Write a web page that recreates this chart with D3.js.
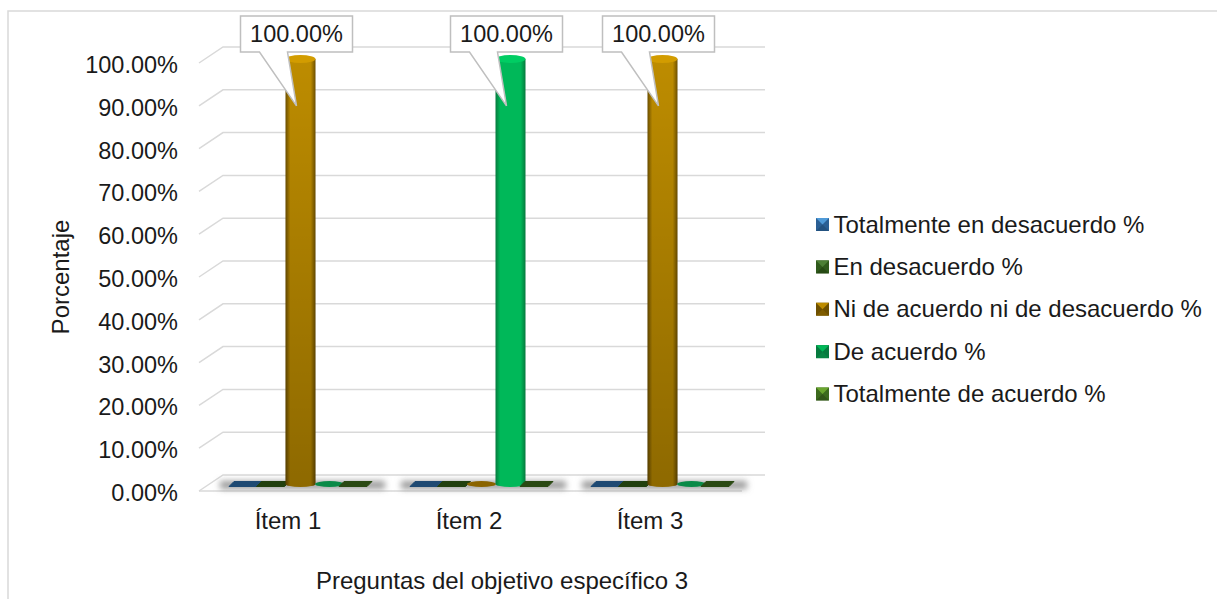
<!DOCTYPE html>
<html>
<head>
<meta charset="utf-8">
<script src="https://cdn.jsdelivr.net/npm/d3@7"></script>
<style>
  html, body { margin: 0; padding: 0; background: #fff; }
  text { font-family: "Liberation Sans", Arial, sans-serif; fill: #1a1a1a; }
</style>
</head>
<body>
<div id="chart"></div>
<script>
const items = ["Ítem 1", "Ítem 2", "Ítem 3"];
const seriesNames = ["Totalmente en desacuerdo %", "En desacuerdo %", "Ni de acuerdo ni de desacuerdo %", "De acuerdo %", "Totalmente de acuerdo %"];
const totalDes = [0, 0, 0];
const enDes = [0, 0, 0];
const niNi = [100, 0, 100];
const deAcuerdo = [0, 100, 0];
const totalAc = [0, 0, 0];
const seriesValues = [totalDes, enDes, niNi, deAcuerdo, totalAc];
const yTicks = [0, 10, 20, 30, 40, 50, 60, 70, 80, 90, 100];

// colours per series: flat base, dark edge, light centre
const flatColors = ["#1f4a73", "#22400f", "#8a6400", "#0a8a48", "#2b4a14"];
const edgeColors = ["#2a5f94", "#2f5a1c", "#6e5000", "#067a3e", "#3c6a1e"];
const midColors = ["#4f9ad8", "#4c7f35", "#bd8c00", "#00b859", "#6aa52e"];

const width = 1217, height = 599;
const dx = 24, dy = -16;   // depth of the 3d floor

const svg = d3.select("#chart").append("svg")
    .attr("width", width)
    .attr("height", height)
    .style("display", "block");

const defs = svg.append("defs");
seriesNames.forEach(function(s, i) {
    const g = defs.append("linearGradient").attr("id", "cyl" + i);
    g.append("stop").attr("offset", "0%").attr("stop-color", edgeColors[i]);
    g.append("stop").attr("offset", "16%").attr("stop-color", midColors[i]);
    g.append("stop").attr("offset", "84%").attr("stop-color", midColors[i]);
    g.append("stop").attr("offset", "100%").attr("stop-color", edgeColors[i]);
});
// brown bars darken towards the floor
const fade = defs.append("linearGradient").attr("id", "fade")
    .attr("x1", 0).attr("x2", 0).attr("y1", 0).attr("y2", 1);
fade.append("stop").attr("offset", "0%").attr("stop-color", "#000").attr("stop-opacity", 0);
fade.append("stop").attr("offset", "100%").attr("stop-color", "#000").attr("stop-opacity", 0.25);
defs.append("filter").attr("id", "blur")
    .attr("x", "-20%").attr("y", "-100%").attr("width", "140%").attr("height", "300%")
    .append("feGaussianBlur").attr("stdDeviation", 3);

// chart frame, only top and left show
svg.append("path")
    .attr("d", "M8,599V11H1217")
    .attr("fill", "none")
    .attr("stroke", "#d9d9d9")
    .attr("stroke-width", 1.5);

const y = d3.scaleLinear().domain([0, 100]).range([491, 63]);
const x = d3.scaleBand().domain(items).range([199, 742]);
const inner = d3.scaleBand().domain(d3.range(5)).range([18, x.bandwidth() - 18]);

// gridlines with the diagonal on the left wall
svg.append("g").selectAll("path")
    .data(yTicks)
    .enter()
    .append("path")
    .attr("d", function(d) {
        return "M199," + y(d) + "L" + (199 + dx) + "," + (y(d) + dy) + "H765";
    })
    .attr("fill", "none")
    .attr("stroke", "#d9d9d9")
    .attr("stroke-width", 1.5);

// floor front edge
svg.append("line")
    .attr("x1", 199).attr("x2", 742)
    .attr("y1", y(0)).attr("y2", y(0))
    .attr("stroke", "#d9d9d9")
    .attr("stroke-width", 1.5);

// y tick labels
svg.append("g").selectAll("text")
    .data(yTicks)
    .enter()
    .append("text")
    .attr("x", 178)
    .attr("y", function(d) { return y(d) + 10; })
    .attr("text-anchor", "end")
    .attr("font-size", 23.5)
    .text(function(d) { return d.toFixed(2) + "%"; });

// x labels
svg.append("g").selectAll("text")
    .data(items)
    .enter()
    .append("text")
    .attr("x", function(d) { return x(d) + x.bandwidth() / 2 - 1.5; })
    .attr("y", 529)
    .attr("text-anchor", "middle")
    .attr("font-size", 24)
    .text(function(d) { return d; });

svg.append("text")
    .attr("x", 502).attr("y", 589)
    .attr("text-anchor", "middle")
    .attr("font-size", 24)
    .text("Preguntas del objetivo específico 3");

svg.append("text")
    .attr("transform", "translate(69,277) rotate(-90)")
    .attr("text-anchor", "middle")
    .attr("font-size", 24)
    .text("Porcentaje");

// bars
const bw = inner.bandwidth();
const baseY = y(0) - 7, shift = 11;   // bars stand in the middle of the floor depth
const cylSeries = [2, 3];

const groups = svg.append("g").selectAll("g")
    .data(items)
    .enter()
    .append("g")
    .attr("transform", function(d) { return "translate(" + (x(d) + shift) + ",0)"; });

// blurred shadow on the floor
groups.append("rect")
    .attr("x", inner(0) - 8)
    .attr("width", bw * 5 + 20)
    .attr("y", baseY - 3)
    .attr("height", 8)
    .attr("fill", "#9a9a9a")
    .attr("filter", "url(#blur)");

groups.each(function(item, ii) {
    const g = d3.select(this);
    seriesValues.forEach(function(vals, s) {
        const v = vals[ii];
        const bx = inner(s);
        if (v === 0 && cylSeries.indexOf(s) < 0) {
            // zero height bar, flat slanted plate, leaning with the perspective
            const c = bx + bw / 2 + (2 - s) * 1.5;
            g.append("path")
                .attr("d", "M" + (c - 16.5) + "," + (baseY + 2.5) + "l5,-5h28l-5,5z")
                .attr("fill", flatColors[s])
                .attr("stroke", flatColors[s])
                .attr("stroke-width", 1)
                .attr("stroke-linejoin", "round");
        } else if (v === 0) {
            g.append("ellipse")
                .attr("cx", bx + bw / 2).attr("cy", baseY)
                .attr("rx", bw / 2).attr("ry", 3)
                .attr("fill", flatColors[s]);
        } else {
            const top = y(v) + dy / 2 + 4;
            const rx = bw / 2 + 0.5;
            const body = "M" + (bx + bw / 2 - rx) + "," + top + "V" + baseY
                + "A" + rx + ",3 0 0 0 " + (bx + bw / 2 + rx) + "," + baseY + "V" + top + "z";
            g.append("path").attr("d", body).attr("fill", "url(#cyl" + s + ")");
            if (s === 2) g.append("path").attr("d", body).attr("fill", "url(#fade)");
            g.append("ellipse")
                .attr("cx", bx + bw / 2).attr("cy", top)
                .attr("rx", rx).attr("ry", 4)
                .attr("fill", d3.rgb(midColors[s]).brighter(0.3));
        }
    });
});

// callouts for the 100% bars
const boxW = 112, boxH = 36;
items.forEach(function(item, ii) {
    const s = seriesValues.findIndex(function(vals) { return vals[ii] === 100; });
    const cx = x(item) + shift + inner(s) + bw / 2;
    const bx = cx - 60;
    const by = 16;
    const tipX = cx - 4, tipY = y(90);
    const p = "M" + bx + "," + by + "h" + boxW + "v" + boxH
        + "H" + (bx + 47) + "L" + tipX + "," + tipY + "L" + (bx + 19) + "," + (by + boxH)
        + "H" + bx + "z";
    svg.append("path")
        .attr("d", p)
        .attr("fill", "#fff")
        .attr("stroke", "#bfbfbf")
        .attr("stroke-width", 1.5);
    svg.append("text")
        .attr("x", bx + boxW / 2)
        .attr("y", by + 26)
        .attr("text-anchor", "middle")
        .attr("font-size", 23.5)
        .text(y.domain()[1].toFixed(2) + "%");
});

// legend, bevelled swatch with a light top
const legendY = d3.scalePoint().domain(seriesNames).range([224.5, 394]);
const leg = svg.append("g").selectAll("g")
    .data(seriesNames)
    .enter()
    .append("g")
    .attr("transform", function(d) { return "translate(816," + legendY(d) + ")"; });
leg.append("rect")
    .attr("y", -6.5).attr("width", 13).attr("height", 13)
    .attr("fill", function(d, i) { return edgeColors[i]; });
leg.append("path")
    .attr("d", "M0,-6.5H13L6.5,0z")
    .attr("fill", function(d, i) { return midColors[i]; });
leg.append("path")
    .attr("d", "M0,6.5H13L6.5,0z")
    .attr("fill", function(d, i) { return flatColors[i]; })
    .attr("opacity", 0.6);
leg.append("text")
    .attr("x", 17.5).attr("y", 8)
    .attr("font-size", 24)
    .text(function(d) { return d; });
</script>
</body>
</html>
